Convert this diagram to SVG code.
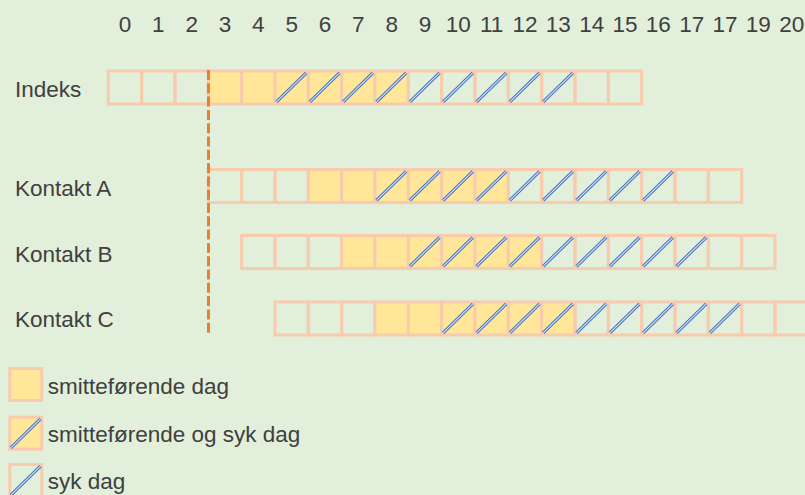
<svg xmlns="http://www.w3.org/2000/svg" xmlns:xlink="http://www.w3.org/1999/xlink" width="805" height="495" viewBox="0 0 805 495">
<style>
text{font-family:"Liberation Sans",Arial,sans-serif;font-size:22.5px;fill:#404040}
.hd{text-anchor:middle}
.c{fill:none;stroke:#F8CBAD;stroke-width:3}
.y{fill:#FFE699;stroke:#F8CBAD;stroke-width:3}
.hb{fill:none;stroke:#4472C4;stroke-width:3.2}
.hl{fill:none;stroke:#DCE6F2;stroke-width:1.1}
.dash{stroke:#ED7D31;stroke-width:3;stroke-dasharray:10 3.3;fill:none}
</style>
<defs>
<g id="h"><path class="hb" d="M1.5 30.8 L31.2 1.8"/><path class="hl" d="M1.5 30.8 L31.2 1.8"/></g>
<g id="pattern">
<rect class="c" x="0" y="0" width="33.333" height="33"/>
<rect class="c" x="33.333" y="0" width="33.333" height="33"/>
<rect class="c" x="66.667" y="0" width="33.333" height="33"/>
<rect class="y" x="100" y="0" width="33.333" height="33"/>
<rect class="y" x="133.333" y="0" width="33.333" height="33"/>
<rect class="y" x="166.667" y="0" width="33.333" height="33"/>
<rect class="y" x="200" y="0" width="33.333" height="33"/>
<rect class="y" x="233.333" y="0" width="33.333" height="33"/>
<rect class="y" x="266.667" y="0" width="33.333" height="33"/>
<rect class="c" x="300" y="0" width="33.333" height="33"/>
<rect class="c" x="333.333" y="0" width="33.333" height="33"/>
<rect class="c" x="366.667" y="0" width="33.333" height="33"/>
<rect class="c" x="400" y="0" width="33.333" height="33"/>
<rect class="c" x="433.333" y="0" width="33.333" height="33"/>
<rect class="c" x="466.667" y="0" width="33.333" height="33"/>
<rect class="c" x="500" y="0" width="33.333" height="33"/>
<use href="#h" x="166.667"/><use href="#h" x="200"/><use href="#h" x="233.333"/><use href="#h" x="266.667"/>
<use href="#h" x="300"/><use href="#h" x="333.333"/><use href="#h" x="366.667"/><use href="#h" x="400"/><use href="#h" x="433.333"/>
</g>
</defs>
<rect x="0" y="0" width="805" height="495" fill="#E2EFDA"/>
<g id="header">
<text class="hd" x="125" y="31.5">0</text>
<text class="hd" x="158.3" y="31.5">1</text>
<text class="hd" x="191.7" y="31.5">2</text>
<text class="hd" x="225" y="31.5">3</text>
<text class="hd" x="258.3" y="31.5">4</text>
<text class="hd" x="291.7" y="31.5">5</text>
<text class="hd" x="325" y="31.5">6</text>
<text class="hd" x="358.3" y="31.5">7</text>
<text class="hd" x="391.7" y="31.5">8</text>
<text class="hd" x="425" y="31.5">9</text>
<text class="hd" x="458.3" y="31.5">10</text>
<text class="hd" x="491.7" y="31.5">11</text>
<text class="hd" x="525" y="31.5">12</text>
<text class="hd" x="558.3" y="31.5">13</text>
<text class="hd" x="591.7" y="31.5">14</text>
<text class="hd" x="625" y="31.5">15</text>
<text class="hd" x="658.3" y="31.5">16</text>
<text class="hd" x="691.7" y="31.5">17</text>
<text class="hd" x="725" y="31.5">17</text>
<text class="hd" x="758.3" y="31.5">19</text>
<text class="hd" x="791.7" y="31.5">20</text>
</g>
<g id="indeks">
<text x="15" y="96.5">Indeks</text>
<use href="#pattern" x="108.333" y="71"/>
</g>
<g id="kontakt-a">
<text x="15" y="195.7">Kontakt A</text>
<use href="#pattern" x="208.333" y="169.5"/>
</g>
<g id="kontakt-b">
<text x="15" y="261.7">Kontakt B</text>
<use href="#pattern" x="241.667" y="235.5"/>
</g>
<g id="kontakt-c">
<text x="15" y="327.3">Kontakt C</text>
<use href="#pattern" x="275" y="302"/>
</g>
<g id="connectors">
<line class="dash" x1="208.5" y1="70" x2="208.5" y2="336"/>
</g>
<g id="legend-smittende">
<rect class="y" x="9.8" y="368.5" width="32" height="32"/>
<text x="47.7" y="394.3">smitteførende dag</text>
</g>
<g id="legend-smittende-syk">
<rect class="y" x="9.8" y="417.2" width="32" height="32"/>
<use href="#h" x="9.3" y="417"/>
<text x="47.7" y="441.7">smitteførende og syk dag</text>
</g>
<g id="legend-syk">
<rect class="c" x="9.8" y="464.5" width="32" height="32"/>
<use href="#h" x="9.3" y="464.3"/>
<text x="47.7" y="489.3">syk dag</text>
</g>
</svg>
